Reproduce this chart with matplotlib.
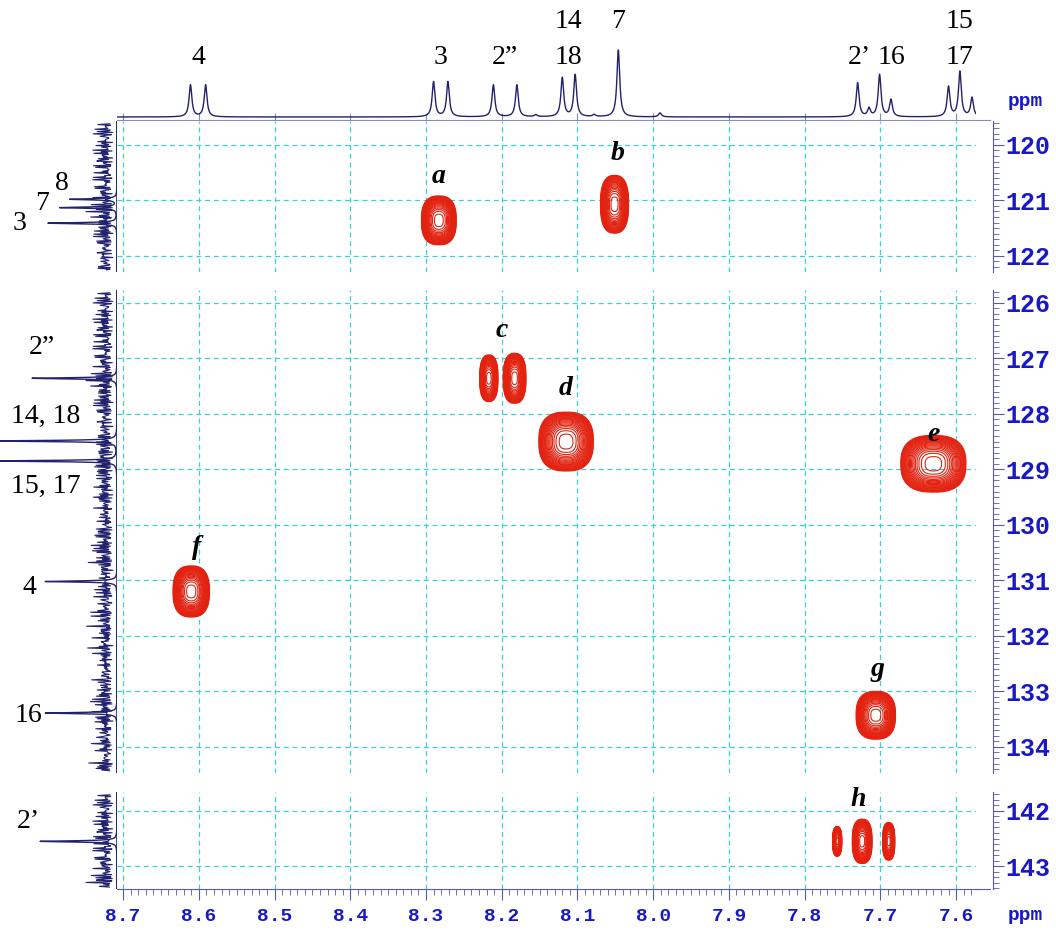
import numpy as np
import matplotlib
matplotlib.use('Agg')
import matplotlib.pyplot as plt
from matplotlib.transforms import blended_transform_factory
from matplotlib.ticker import MultipleLocator, FormatStrFormatter
from matplotlib.lines import Line2D

""" ======================  data read off the picture  ====================== """
# 1H trace on top: line positions (ppm) and heights
h_shift = [8.611, 8.591, 8.290, 8.271, 8.211, 8.180, 8.155, 8.120, 8.103, 8.078,
           8.046, 7.991, 7.730, 7.715, 7.701, 7.686, 7.610, 7.595, 7.579]
h_height = [32, 32, 35, 35, 32, 32, 2, 39, 42, 2,
            67, 4, 34, 8, 42, 17, 30, 45, 19]
h_lab_low = ['4', '3', '2”', '18', '2’', '16', '17']
h_lab_low_x = [8.601, 8.281, 8.196, 8.112, 7.728, 7.685, 7.595]
h_lab_up = ['14', '7', '15']
h_lab_up_x = [8.112, 8.046, 7.595]

# 13C trace on the left: line positions (ppm) and heights
c_shift = [120.98, 121.13, 121.41, 127.36, 128.49, 128.85, 131.02, 133.39, 142.55]
c_height = [47, 57, 69, 85, 125, 125, 72, 72, 77]
# baseline noise of the 13C trace (relative amplitudes, read roughly)
noise_a = [0.35, 0.62, 0.18, 0.85, 0.40, 0.55, 0.22, 0.95, 0.48, 0.30,
           0.70, 0.12, 0.58, 0.80, 0.26, 0.44, 1.00, 0.38, 0.66, 0.20,
           0.52, 0.74, 0.33, 0.90, 0.15, 0.47, 0.60, 0.28, 0.82, 0.41,
           0.69, 0.24, 0.56, 0.36, 0.88, 0.19, 0.64, 0.45, 0.77, 0.31,
           0.53, 0.98, 0.27, 0.61, 0.14, 0.72, 0.39, 0.50, 0.86, 0.23,
           0.67, 0.42, 0.58, 0.17, 0.79, 0.34, 0.92, 0.46, 0.29, 0.63,
           0.21, 0.71, 0.49, 0.84, 0.32, 0.57, 0.13, 0.68, 0.43, 0.94,
           0.25, 0.54, 0.76, 0.37, 0.60, 0.16, 0.83, 0.40, 0.65, 0.28,
           0.51, 0.89, 0.35, 0.73, 0.19, 0.59, 0.44, 0.97, 0.30, 0.66,
           0.22, 0.75, 0.48, 0.55, 0.26, 0.81, 0.38]
noise_b = [0.2, 0.9, 0.5, 0.1, 0.7, 0.3, 1.0, 0.6, 0.0, 0.4,
           0.8, 0.2, 0.5, 0.9, 0.1, 0.6, 0.3, 0.7, 0.0, 1.0,
           0.4, 0.2, 0.8, 0.5, 0.1, 0.9, 0.3, 0.6, 0.7, 0.0,
           0.5, 1.0, 0.2, 0.4, 0.8, 0.1, 0.6, 0.3, 0.9, 0.5, 0.7]

# HSQC cross peaks: 1H shift, 13C shift, half width (ppm H), half height (ppm C)
xp_h = [8.283, 8.051, 8.217, 8.183, 8.115, 7.630, 8.610, 7.706, 7.757, 7.724, 7.689]
xp_c = [121.36, 121.07, 127.36, 127.36, 128.50, 128.90, 131.20, 133.43, 142.55, 142.55, 142.55]
xp_wh = [0.023, 0.0185, 0.012, 0.015, 0.036, 0.043, 0.024, 0.026, 0.006, 0.013, 0.008]
xp_wc = [0.44, 0.52, 0.42, 0.45, 0.53, 0.51, 0.46, 0.43, 0.27, 0.40, 0.34]

# peak letters
let_txt = ['a', 'b', 'c', 'd', 'e', 'f', 'g', 'h']
let_h = [8.283, 8.047, 8.200, 8.115, 7.630, 8.603, 7.704, 7.729]
let_c = [120.57, 120.15, 126.50, 127.55, 128.38, 130.40, 132.60, 141.80]

""" ==============================  layout  ================================ """
W, H = 1056, 933
fig = plt.figure(figsize=(W / 100, H / 100), dpi=100)

def box(x0, y0, x1, y1):
    return fig.add_axes([x0 / W, 1 - y1 / H, (x1 - x0) / W, (y1 - y0) / H])

X0, X1 = 117, 976            # 2D area in pixels
XL, XR = 8.708, 7.5737       # ppm at the left / right edge
# panels: pixel top, pixel bottom, ppm top, ppm bottom
panels = [(121, 272, 119.57, 122.29),
          (290, 773, 125.77, 134.47),
          (792, 889, 141.66, 143.41)]

navy = '#22226e'
red = '#e3210f'
cyan = '#3cd2d2'
blue_txt = '#1818c8'
tick_col = '#5a5aa8'
serif = 'Liberation Serif'
mono = 'Liberation Mono'

""" ===========================  top 1H trace  ============================= """
axt = box(X0, 30, X1, 120)
xs = np.linspace(XL, XR, 5000)
hw = 0.0022
spec = np.zeros_like(xs)
for s, a in zip(h_shift, h_height):
    spec += a * hw ** 2 / ((xs - s) ** 2 + hw ** 2)
axt.plot(xs, spec, color=navy, lw=1.0)
axt.set_xlim(XL, XR)
axt.set_ylim(-3, 87)
for sp in ['top', 'left', 'right']:
    axt.spines[sp].set_visible(False)
axt.spines['bottom'].set_color('#8a8ab4')
axt.set_yticks([])
axt.xaxis.set_major_locator(MultipleLocator(0.1))
axt.tick_params(axis='x', direction='in', length=5, color='#8a8ab4', labelbottom=False)
fig.add_artist(Line2D([X1 / W, 990 / W], [1 - 120 / H, 1 - 120 / H], color='#8a8ab4', lw=0.8))

tr_top = blended_transform_factory(axt.transData, fig.transFigure)
for t, x in zip(h_lab_low, h_lab_low_x):
    axt.text(x, 1 - 57 / H, t, transform=tr_top, ha='center', va='center',
             fontsize=20, family=serif)
for t, x in zip(h_lab_up, h_lab_up_x):
    axt.text(x, 1 - 22 / H, t, transform=tr_top, ha='center', va='center',
             fontsize=20, family=serif)
fig.text(1008 / W, 1 - 102 / H, 'ppm', color=blue_txt, fontsize=14,
         family=mono, weight='bold', va='center')

""" ========================  2D panels + 13C trace  ======================= """
gx = np.linspace(XL, XR, 1000)
levels = np.geomspace(0.05, 0.92, 22)
pw = 2.6                      # flat-topped peak shape
rim = np.log(1 / 0.05) ** (1 / pw)
for i, (p0, p1, ct, cb) in enumerate(panels):
    ax = box(X0, p0, X1, p1)
    gy = np.linspace(ct, cb, 500)
    GX, GY = np.meshgrid(gx, gy)
    Z = np.zeros_like(GX)
    for xh, xc, wh, wc in zip(xp_h, xp_c, xp_wh, xp_wc):
        if ct < xc < cb:
            Z += np.exp(-(np.abs((GX - xh) / (wh / rim)) ** pw
                          + np.abs((GY - xc) / (wc / rim)) ** pw))
    ax.contour(GX, GY, Z, levels=levels, colors=red, linewidths=0.8)
    for t, lh, lc in zip(let_txt, let_h, let_c):
        if ct - 0.5 < lc < cb:
            ax.text(lh, lc, t, ha='center', va='center', fontsize=20, family=serif,
                    weight='bold', style='italic', clip_on=False)
    ax.set_xlim(XL, XR)
    ax.set_ylim(cb, ct)
    ax.xaxis.set_major_locator(MultipleLocator(0.1))
    ax.yaxis.set_major_locator(MultipleLocator(1))
    ax.yaxis.set_minor_locator(MultipleLocator(0.1))
    ax.grid(True, which='major', color=cyan, ls=(0, (4, 3)), lw=0.9)
    for sp in ['top', 'left', 'bottom']:
        ax.spines[sp].set_visible(False)
    ax.spines['right'].set_position(('outward', 12))
    ax.spines['right'].set_color(tick_col)
    ax.yaxis.tick_right()
    ax.yaxis.set_major_formatter(FormatStrFormatter('%d'))
    ax.tick_params(axis='y', which='major', length=8, color=tick_col, labelcolor=blue_txt,
                   labelsize=18, pad=1)
    ax.tick_params(axis='y', which='minor', length=4, color=tick_col)
    for lab in ax.get_yticklabels():
        lab.set_family(mono)
        lab.set_weight('bold')
    if i == len(panels) - 1:
        ax.spines['bottom'].set_visible(True)
        ax.spines['bottom'].set_color(tick_col)
        ax.xaxis.set_minor_locator(MultipleLocator(0.01))
        ax.xaxis.set_major_formatter(FormatStrFormatter('%.1f'))
        ax.tick_params(axis='x', which='major', length=8, color=tick_col, labelcolor=blue_txt,
                       labelsize=14, pad=6)
        ax.tick_params(axis='x', which='minor', length=4, color=tick_col)
        for lab in ax.get_xticklabels():
            lab.set_family(mono)
            lab.set_weight('bold')
    else:
        ax.tick_params(axis='x', length=0, labelbottom=False)

    # 13C projection on the left
    axp = box(0, p0, X0, p1)
    ys = np.arange(ct + 0.05, cb - 0.03, 0.014)
    na = np.resize(np.array(noise_a), ys.size)
    nb = np.resize(np.array(noise_b), ys.size)
    noise = 3 + 20 * na * (0.4 + nb)
    axp.plot(noise, ys, color=navy, lw=0.8)
    yf = np.linspace(ct, cb, 3000)
    cw = 0.012
    proj = np.zeros_like(yf)
    for s, a in zip(c_shift, c_height):
        if ct < s < cb:
            proj += a * cw ** 2 / ((yf - s) ** 2 + cw ** 2)
    axp.plot(proj, yf, color=navy, lw=1.0)
    axp.axvline(0, color=navy, lw=1.2)
    axp.set_xlim(X0, 0)
    axp.set_ylim(cb, ct)
    axp.axis('off')

fig.add_artist(Line2D([X1 / W, 990 / W], [1 - 889 / H, 1 - 889 / H], color=tick_col, lw=0.8))
fig.text(1008 / W, 1 - 915 / H, 'ppm', color=blue_txt, fontsize=14,
         family=mono, weight='bold', va='center')

# labels of the 13C lines
def lab(px, py, t, ha='center'):
    fig.text(px / W, 1 - py / H, t, ha=ha, va='center', fontsize=20, family=serif)

lab(62, 183, '8')
lab(42, 204, '7')
lab(20, 224, '3')
lab(42, 348, '2”')
lab(46, 416, '14, 18')
lab(46, 486, '15, 17')
lab(36, 588, '4', ha='right')
lab(42, 715, '16', ha='right')
lab(40, 822, '2’', ha='right')

fig.savefig('out.png', dpi=100)
